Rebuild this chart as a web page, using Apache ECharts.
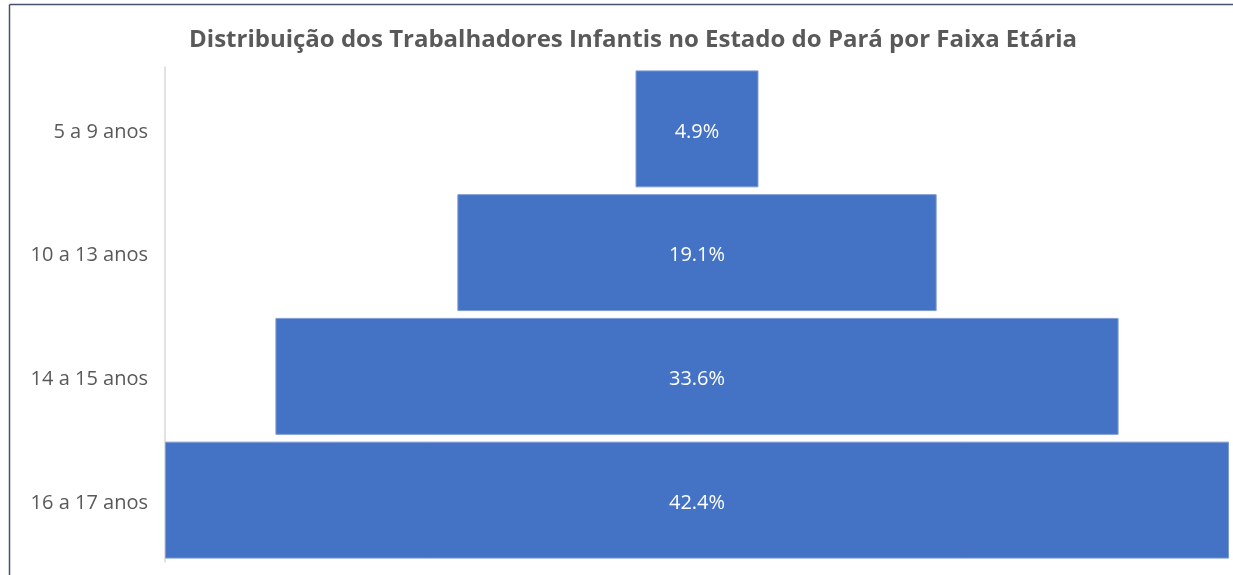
<!DOCTYPE html>
<html><head><meta charset="utf-8">
<script src="https://cdn.jsdelivr.net/npm/echarts@6/dist/echarts.min.js"></script>
<style>html,body{margin:0;padding:0;background:#fff}#c{width:1233px;height:575px}</style>
</head><body><div id="c"></div>
<script>
const categories = ['5 a 9 anos', '10 a 13 anos', '14 a 15 anos', '16 a 17 anos'];
const values = [4.9, 19.1, 33.6, 42.4];
const titleText = 'Distribuição dos Trabalhadores Infantis no Estado do Pará por Faixa Etária';

const maxV = Math.max(...values);
const offsets = values.map(v => (maxV - v) / 2);
const chart = echarts.init(document.getElementById('c'));
chart.setOption({
  animation: false,
  title: {
    text: titleText, left: 628, top: 23, textAlign: 'center',
    textStyle: {fontFamily: 'Open Sans', fontSize: 24, fontWeight: 'bold', color: '#595959'}
  },
  graphic: [
    {type: 'line', shape: {x1: 9.5, y1: 4.5, x2: 1233, y2: 4.5}, style: {stroke: '#44546a', lineWidth: 1.5}},
    {type: 'line', shape: {x1: 9.5, y1: 4.5, x2: 9.5, y2: 575}, style: {stroke: '#44546a', lineWidth: 1.5}}
  ],
  grid: {left: 165, right: 4, top: 67, bottom: 13},
  xAxis: {type: 'value', min: 0, max: maxV, show: false},
  yAxis: {
    type: 'category', data: categories, inverse: true,
    axisLine: {show: true, lineStyle: {color: '#d9d9d9', width: 1.5}},
    axisTick: {show: false},
    axisLabel: {fontFamily: 'Open Sans', fontSize: 20, color: '#595959', margin: 17,
                formatter: v => '{a|' + v + '}',
                rich: {a: {fontFamily: 'Open Sans', fontSize: 20, color: '#595959', padding: [6, 0, 0, 0]}}}
  },
  series: [
    {type: 'bar', stack: 'f', data: offsets, itemStyle: {color: 'transparent'}, barCategoryGap: '5.5%', silent: true},
    {type: 'bar', stack: 'f', data: values, barCategoryGap: '5.5%',
     itemStyle: {color: '#4472c4', borderColor: '#7d9bd6', borderWidth: 1},
     label: {show: true, position: 'inside', formatter: p => p.value.toFixed(1) + '%', offset: [0, 3],
             fontFamily: 'Open Sans', fontSize: 20, color: '#ffffff'}}
  ]
});
</script></body></html>
